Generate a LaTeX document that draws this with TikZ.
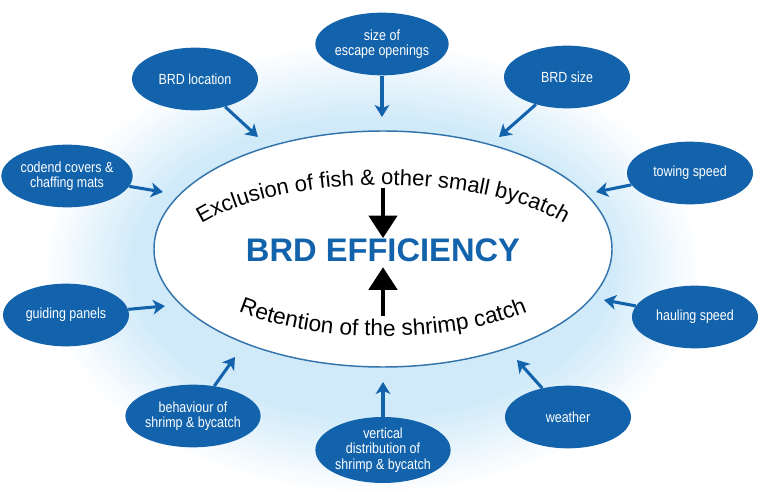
\documentclass[tikz,border=0pt]{standalone}
\usepackage{fontspec}
\setmainfont{Liberation Sans}
\newfontfamily\narrowfont[FakeStretch=0.85]{Liberation Sans}
\usetikzlibrary{shapes.geometric,arrows.meta,decorations.text}

\definecolor{brdblue}{RGB}{18,99,172}
\definecolor{rimblue}{RGB}{52,116,172}
\definecolor{haloblue}{RGB}{208,234,249}

\tikzset{%
				factor/.style={
					ellipse,
					fill=brdblue,
					text=white,
					align=center,
					inner sep=0pt,
					minimum width=94.5pt,
					minimum height=47pt,
					font=\narrowfont\fontsize{11}{11.5}\selectfont
				},
				factor vert/.style={
					minimum height=49.5pt
				},
				feed/.style={
					draw=brdblue,
					line width=2.3pt,
					-{Stealth[width=11pt,length=9pt,inset=2.5pt]}
				},
				push/.style={
					draw=black,
					line width=3.6pt,
					-{Triangle[width=21pt,length=17pt]}
				},
			}

\begin{document}
\begin{tikzpicture}[x=0.75pt, y=-0.75pt]
			
			\useasboundingbox (0,0) rectangle (768,499);
			\fill [white] (0,0) rectangle (768,499);
			
			% soft halo round the core
			\foreach \k [evaluate=\k as \pct using int(\k*4)] in {0,...,25}
			\fill [haloblue!\pct!white] (372,268) ellipse [x radius=330-\k*3.6, y radius=228-\k*3.2];
			
			\node [ellipse, draw=rimblue, fill=white, line width=1.1pt, minimum width=343.5pt, minimum height=177pt, inner sep=0pt] (core) at (383,249) {};
			
			\path [decorate, decoration={text along path, text align=center,
				text={|\fontsize{16.5}{18}\selectfont|Exclusion of fish {\&} other small bycatch}}]
			(188.1,233.2) arc [start angle=-155, end angle=-25, x radius=215, y radius=83.5];
			
			\path [decorate, decoration={text along path, text align=center,
				text={|\fontsize{17}{18}\selectfont|Retention of the shrimp catch}}]
			(219.2,302.3) arc [start angle=145, end angle=35, x radius=200, y radius=79];
			
			\node [text=brdblue, font=\fontsize{24.5}{28}\selectfont\bfseries, inner sep=0pt] (eff) at (383,250) {BRD EFFICIENCY};
			
			\coordinate (exc) at (383,188);
			\coordinate (ret) at (383,316);
			\draw [push] (exc) -- (eff.north);
			\draw [push] (ret) -- ([yshift=-4pt]eff.south);
			
			\foreach \nm/\x/\y/\tx/\ty/\txt in {
				size/382/44/382/117/{size of\\escape openings},
				loc/195/79/258/137/{BRD location},
				bsize/567/77/499/137/{BRD size},
				covers/67/176/163/192/{codend covers \&\\chaffing mats},
				tow/690/173/596/192/{towing speed},
				guide/66/315/165/306/{guiding panels},
				haul/695/317/604/300/{hauling speed},
				behav/193/416/235/357/{behaviour of\\shrimp \& bycatch},
				vert/383/450/383/382/{vertical\\distribution of\\shrimp \& bycatch},
				weather/568/417/517/360/{weather}}
			{
				\node [factor, factor \nm/.try] (\nm) at (\x,\y) {\txt};
				\coordinate (\nm-tip) at (\tx,\ty);
				\draw [feed] (\nm) -- (\nm-tip);
			}
			
\end{tikzpicture}
\end{document}
